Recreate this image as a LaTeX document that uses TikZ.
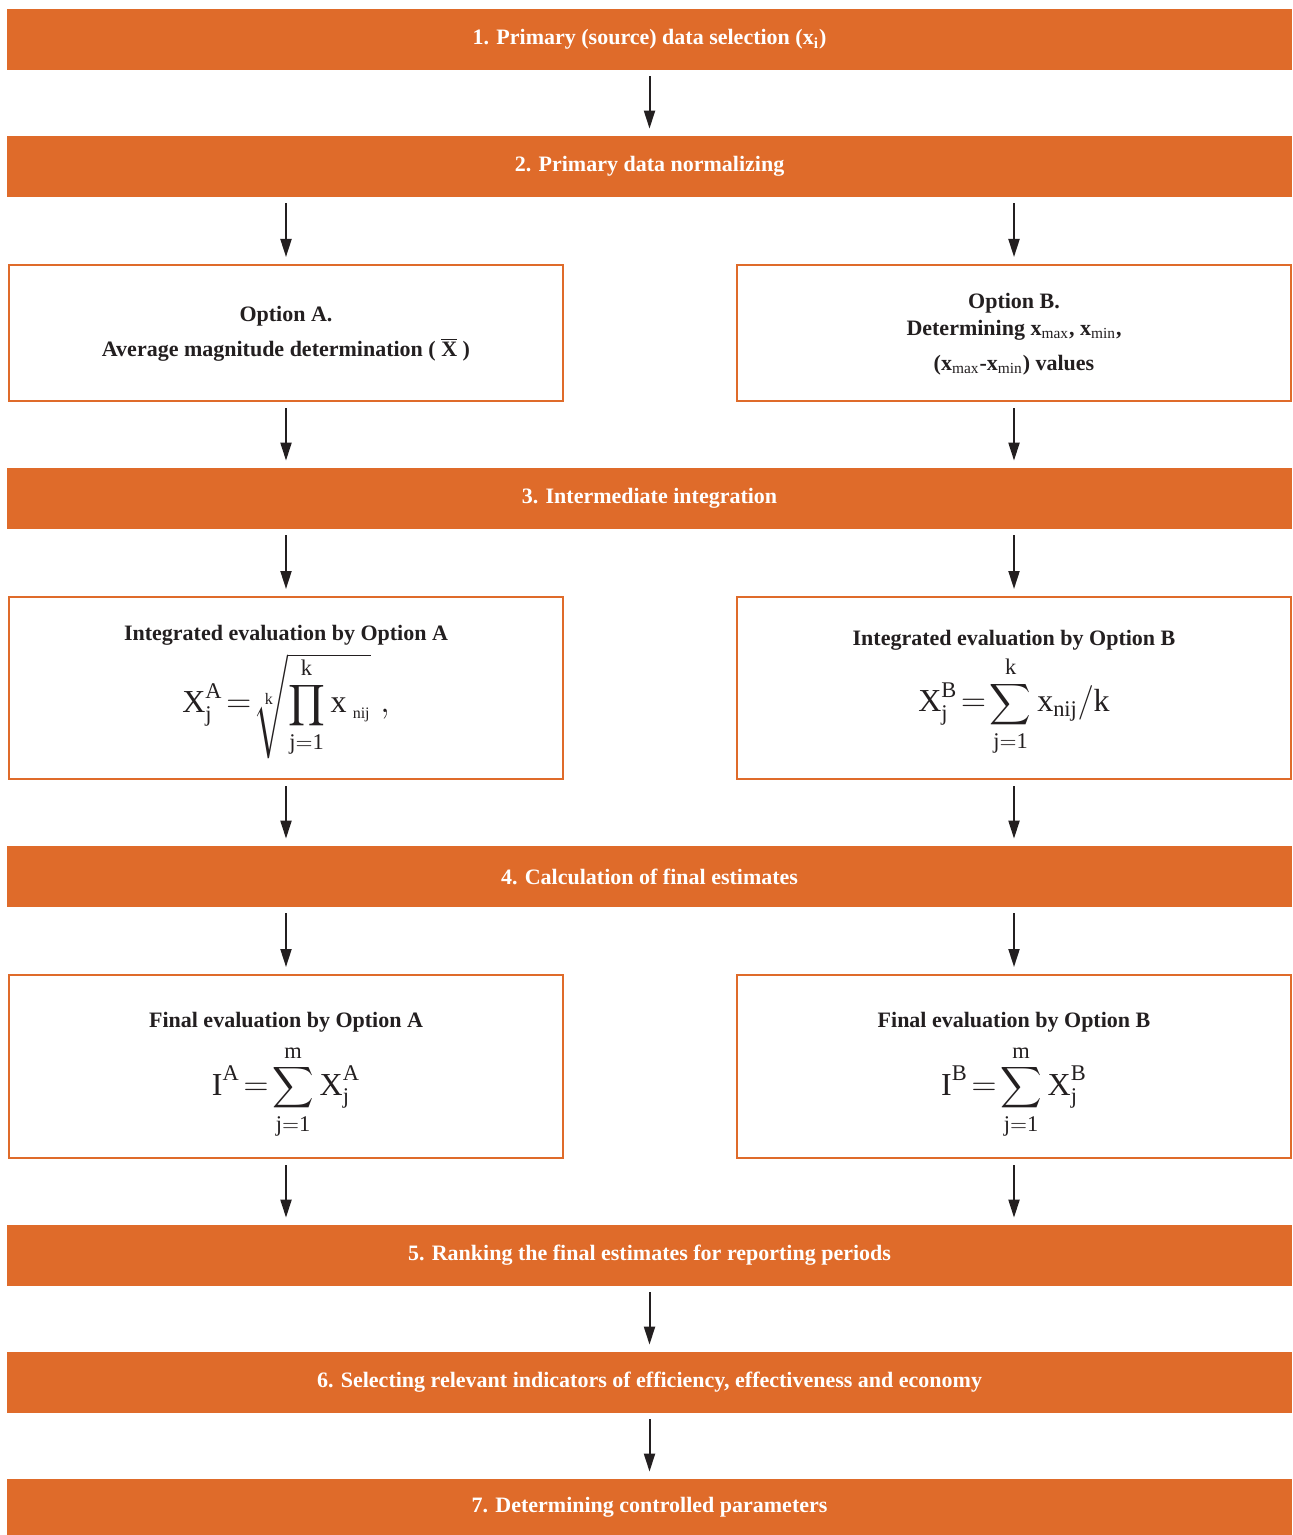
\documentclass[tikz,border=0pt]{standalone}
\usepackage{amsmath}
\usepackage{exscale}
\usepackage{fontspec}
\setmainfont{Liberation Serif}
\usetikzlibrary{arrows.meta}
\definecolor{orng}{HTML}{DF6B2A}
\definecolor{ink}{HTML}{231F20}
\newcommand{\msum}{\mathop{\text{\fontsize{13.5}{14}\selectfont$\displaystyle\sum$}}\limits}
\newcommand{\mprod}{\mathop{\text{\fontsize{14.5}{15}\selectfont$\displaystyle\prod$}}\limits}
\begin{document}
\begin{tikzpicture}[x=0.5pt,y=-0.5pt,
 bar/.style={fill=orng, draw=none, minimum width=642.5pt, minimum height=30.5pt, inner sep=0pt, text=white, font=\fontsize{11}{13}\selectfont\bfseries},
 box/.style={draw=orng, line width=1pt, fill=white, minimum width=277pt, inner sep=0pt},
 lbl/.style={text=ink, align=center, inner sep=0pt, font=\fontsize{11}{13}\selectfont\bfseries},
 frm/.style={text=ink, inner sep=0pt, font=\fontsize{16}{19}\selectfont},
 arr/.style={draw=ink, line width=1pt, -{Triangle[length=9pt,width=5.5pt]}, shorten <=3pt, shorten >=3.5pt}]
\useasboundingbox (0,0) rectangle (1293,1535);
\fill[white] (0,0) rectangle (1293,1535);
% bars
\node[bar] (b1) at (649.5,39.5) {\raisebox{-2.5pt}{1. Primary (source) data selection (x\textsubscript{i})}};
\node[bar] (b2) at (649.5,166.5) {\raisebox{-2.5pt}{2. Primary data normalizing}};
\node[bar] (b3) at (649.5,498.5) {\raisebox{-2.5pt}{3. Intermediate integration}};
\node[bar] (b4) at (649.5,876.5) {\raisebox{-2.5pt}{4. Calculation of final estimates}};
\node[bar] (b5) at (649.5,1255.5) {\raisebox{-2.5pt}{5. Ranking the final estimates for reporting periods}};
\node[bar] (b6) at (649.5,1382.5) {\raisebox{-2.5pt}{6. Selecting relevant indicators of efficiency, effectiveness and economy}};
\node[bar, minimum height=28pt] (b7) at (649.5,1507) {\raisebox{-3pt}{7. Determining controlled parameters}};
% boxes
\node[box, minimum height=68pt] (oa) at (286,333) {};
\node[box, minimum height=68pt] (ob) at (1014,333) {};
\node[box, minimum height=91pt] (ia) at (286,688) {};
\node[box, minimum height=91pt] (ib) at (1014,688) {};
\node[box, minimum height=91.5pt] (fa) at (286,1066.5) {};
\node[box, minimum height=91.5pt] (fb) at (1014,1066.5) {};
% box texts
\node[lbl] (oat) at (286,334) {Option A.\\[4.5pt] Average magnitude determination ( $\overline{\mathbf{X}}$ )};
\node[lbl] (obt) at (1014,334) {Option B.\\[0.5pt] Determining x\textsubscript{\normalfont max}, x\textsubscript{\normalfont min},\\[4.5pt] (x\textsubscript{\normalfont max}-x\textsubscript{\normalfont min}) values};
\node[lbl] (iat) at (286,635) {Integrated evaluation by Option A};
\node[frm] (iaf) at (286,706) {$\displaystyle \mathrm{X}_{\mathrm{j}}^{\mathrm{A}}\!=\!\sqrt[\mathrm{k}]{\smash{\mprod_{\mathrm{j=1}}^{\mathrm{k}}\mathrm{x}_{\;\scriptscriptstyle\mathrm{nij}}}\rule[-19pt]{0pt}{41pt}}\;,$};
\node[lbl] (ibt) at (1014,640) {Integrated evaluation by Option B};
\node[frm] (ibf) at (1014,706) {$\displaystyle \mathrm{X}_{\mathrm{j}}^{\mathrm{B}}\!=\!\msum_{\mathrm{j=1}}^{\mathrm{k}}\mathrm{x}_{\mathrm{nij}}/\mathrm{k}$};
\node[lbl] (fat) at (286,1022) {Final evaluation by Option A};
\node[frm] (faf) at (286,1092) {$\displaystyle \mathrm{I}^{\mathrm{A}}\!=\!\msum_{\mathrm{j=1}}^{\mathrm{m}}\mathrm{X}_{\mathrm{j}}^{\mathrm{A}}$};
\node[lbl] (fbt) at (1014,1022) {Final evaluation by Option B};
\node[frm] (fbf) at (1014,1092) {$\displaystyle \mathrm{I}^{\mathrm{B}}\!=\!\msum_{\mathrm{j=1}}^{\mathrm{m}}\mathrm{X}_{\mathrm{j}}^{\mathrm{B}}$};
% arrows
\draw[arr] (b1) -- (b2);
\draw[arr] (b2.south -| oa.north) -- (oa.north);
\draw[arr] (b2.south -| ob.north) -- (ob.north);
\draw[arr] (oa.south) -- (oa.south |- b3.north);
\draw[arr] (ob.south) -- (ob.south |- b3.north);
\draw[arr] (b3.south -| ia.north) -- (ia.north);
\draw[arr] (b3.south -| ib.north) -- (ib.north);
\draw[arr] (ia.south) -- (ia.south |- b4.north);
\draw[arr] (ib.south) -- (ib.south |- b4.north);
\draw[arr] (b4.south -| fa.north) -- (fa.north);
\draw[arr] (b4.south -| fb.north) -- (fb.north);
\draw[arr] (fa.south) -- (fa.south |- b5.north);
\draw[arr] (fb.south) -- (fb.south |- b5.north);
\draw[arr] (b5) -- (b6);
\draw[arr] (b6) -- (b7);
\end{tikzpicture}
\end{document}
